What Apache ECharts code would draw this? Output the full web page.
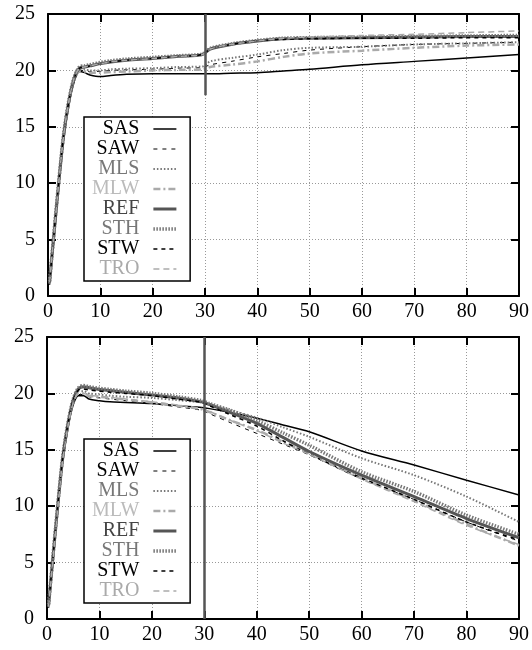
<!DOCTYPE html>
<html>
<head>
<meta charset="utf-8">
<script src="https://cdn.jsdelivr.net/npm/echarts@6/dist/echarts.min.js"></script>
<style>
  html, body { margin: 0; padding: 0; background: #fff; }
  #chart { width: 532px; height: 650px; }
</style>
</head>
<body>
<div id="chart"></div>
<script>
// time samples shared by every curve
var xs = [0.3, 1, 2, 3, 4, 5, 6, 7, 8, 10, 12, 15, 20, 25, 29.5, 31, 35, 40, 45, 50, 60, 70, 80, 90];

// upper panel
var topSAS = [1.0, 4.5, 9.5, 14, 17, 19, 19.9, 19.8, 19.6, 19.45, 19.55, 19.65, 19.7, 19.7, 19.7, 19.7, 19.75, 19.8, 19.95, 20.1, 20.5, 20.8, 21.1, 21.4];
var topSAW = [1.1, 4.6, 9.6, 14.1, 17.1, 19.1, 20.0, 20.0, 19.9, 19.9, 20.0, 20.05, 20.1, 20.2, 20.25, 20.5, 20.8, 21.2, 21.5, 21.8, 22.1, 22.3, 22.4, 22.5];
var topMLS = [1.2, 4.7, 9.7, 14.2, 17.2, 19.2, 20.1, 20.1, 20.0, 20.0, 20.1, 20.15, 20.2, 20.3, 20.35, 20.8, 21.1, 21.4, 21.8, 22.0, 22.1, 22.3, 22.4, 22.5];
var topMLW = [1.1, 4.6, 9.6, 14.1, 17.1, 19.1, 19.9, 19.9, 19.8, 19.8, 19.85, 19.9, 20.0, 20.05, 20.1, 20.3, 20.5, 20.8, 21.2, 21.5, 21.75, 22.0, 22.2, 22.3];
var topREF = [1.2, 4.8, 9.8, 14.3, 17.3, 19.3, 20.2, 20.3, 20.4, 20.6, 20.75, 20.9, 21.05, 21.25, 21.4, 21.9, 22.3, 22.6, 22.8, 22.85, 22.9, 22.95, 23.0, 23.0];
var topSTH = [1.3, 4.9, 9.9, 14.4, 17.4, 19.4, 20.3, 20.4, 20.5, 20.7, 20.85, 21.0, 21.15, 21.3, 21.45, 21.95, 22.35, 22.65, 22.85, 22.9, 22.95, 23.0, 23.05, 23.1];
var topSTW = [1.2, 4.8, 9.8, 14.3, 17.3, 19.3, 20.2, 20.3, 20.4, 20.6, 20.75, 20.9, 21.05, 21.25, 21.4, 21.9, 22.3, 22.6, 22.75, 22.8, 22.85, 22.85, 22.9, 22.9];
var topTRO = [1.2, 4.8, 9.8, 14.3, 17.3, 19.3, 20.2, 20.3, 20.4, 20.6, 20.75, 20.9, 21.05, 21.25, 21.4, 21.9, 22.3, 22.6, 22.85, 22.95, 23.1, 23.2, 23.35, 23.5];

// lower panel
var botSAS = [1.0, 4.5, 9.5, 14, 17, 19, 19.8, 19.8, 19.5, 19.35, 19.25, 19.2, 19.1, 18.9, 18.75, 18.65, 18.3, 17.8, 17.2, 16.6, 14.9, 13.65, 12.3, 11.0];
var botSAW = [1.1, 4.6, 9.6, 14.1, 17.1, 19.1, 19.9, 19.9, 19.7, 19.6, 19.5, 19.35, 19.1, 18.8, 18.5, 18.2, 17.4, 16.45, 15.5, 14.55, 12.4, 10.6, 8.6, 6.9];
var botMLS = [1.2, 4.7, 9.7, 14.2, 17.2, 19.3, 20.2, 20.2, 20.0, 19.9, 19.8, 19.7, 19.6, 19.4, 19.2, 19.05, 18.5, 17.85, 17.0, 16.15, 14.25, 12.75, 10.85, 8.6];
var botMLW = [1.1, 4.6, 9.6, 14.1, 17.1, 19.2, 20.0, 20.0, 19.8, 19.7, 19.6, 19.45, 19.2, 18.9, 18.6, 18.35, 17.6, 16.75, 15.7, 14.7, 12.5, 10.5, 8.4, 6.5];
var botREF = [1.2, 4.8, 9.8, 14.3, 17.3, 19.4, 20.4, 20.6, 20.5, 20.35, 20.25, 20.1, 19.85, 19.6, 19.25, 19.0, 18.3, 17.35, 16.1, 14.85, 12.75, 10.85, 8.9, 7.2];
var botSTH = [1.3, 4.9, 9.9, 14.4, 17.4, 19.5, 20.5, 20.7, 20.6, 20.45, 20.35, 20.2, 20.0, 19.7, 19.35, 19.1, 18.5, 17.6, 16.5, 15.4, 13.05, 11.3, 9.2, 7.5];
var botSTW = [1.2, 4.8, 9.8, 14.3, 17.3, 19.4, 20.3, 20.4, 20.3, 20.2, 20.1, 20.0, 19.8, 19.5, 19.2, 18.9, 18.1, 17.1, 15.8, 14.6, 12.5, 10.6, 8.6, 7.0];
var botTRO = [1.1, 4.6, 9.6, 14.1, 17.1, 19.2, 20.0, 20.0, 19.85, 19.75, 19.65, 19.5, 19.25, 18.95, 18.65, 18.4, 17.6, 16.7, 15.6, 14.6, 12.4, 10.4, 8.3, 6.6];

var names = ['SAS', 'SAW', 'MLS', 'MLW', 'REF', 'STH', 'STW', 'TRO'];
var topData = [topSAS, topSAW, topMLS, topMLW, topREF, topSTH, topSTW, topTRO];
var botData = [botSAS, botSAW, botMLS, botMLW, botREF, botSTH, botSTW, botTRO];

// vertical marker at t = 30
var markX = 30;
var topMarkSpan = [17.8, 25];
var botMarkSpan = [0, 25];

var font = "'Liberation Serif', 'Times New Roman', serif";

// line look per series
var styles = {
    SAS: { color: '#000', width: 1.5, type: 'solid', text: '#000' },
    SAW: { color: '#000', width: 1, type: [4, 5], text: '#000' },
    MLS: { color: '#777', width: 2, type: [1.5, 2], text: '#777' },
    MLW: { color: '#aaa', width: 2.5, type: [7, 3, 2, 3], text: '#bbb' },
    REF: { color: '#555', width: 3, type: 'solid', text: '#444' },
    STH: { color: '#777', width: 3.5, type: [1.5, 1.5], text: '#777' },
    STW: { color: '#000', width: 1.5, type: [4, 4], text: '#000' },
    TRO: { color: '#aaa', width: 1.5, type: [6, 4], text: '#aaa' }
};

var myChart = echarts.init(document.getElementById('chart'));

function pairs(ys) {
    return xs.map(function (x, i) { return [x, ys[i]]; });
}

function xAx(gi, mirror) {
    return {
        type: 'value', gridIndex: gi, min: 0, max: 90, interval: 10,
        position: mirror ? 'top' : 'bottom',
        axisLine: { show: true, onZero: false, lineStyle: { color: '#000', width: 2 } },
        axisTick: { show: true, inside: true, length: 8, lineStyle: { color: '#000', width: 2 } },
        axisLabel: { show: !mirror, fontFamily: font, fontSize: 20, color: '#000', margin: 6 },
        splitLine: { show: !mirror, lineStyle: { color: '#999', type: [1, 2], width: 1 } }
    };
}

function yAx(gi, mirror) {
    return {
        type: 'value', gridIndex: gi, min: 0, max: 25, interval: 5,
        position: mirror ? 'right' : 'left',
        axisLine: { show: true, onZero: false, lineStyle: { color: '#000', width: 2 } },
        axisTick: { show: true, inside: true, length: 8, lineStyle: { color: '#000', width: 2 } },
        axisLabel: { show: !mirror, fontFamily: font, fontSize: 20, color: '#000', margin: 13 },
        splitLine: { show: !mirror, lineStyle: { color: '#999', type: [1, 2], width: 1 } }
    };
}

function legendFor(top) {
    return {
        orient: 'vertical',
        left: 84,
        top: top,
        align: 'right',
        itemWidth: 23,
        itemHeight: 12,
        itemGap: 0,
        padding: [2, 12, 2, 8],
        borderColor: '#000',
        borderWidth: 1.5,
        backgroundColor: '#fff',
        itemStyle: { opacity: 0 },
        textStyle: { fontFamily: font, fontSize: 20, width: 54, align: 'right', padding: [0, 9, 0, 0] },
        data: names.map(function (n) {
            var s = styles[n];
            return {
                name: n,
                textStyle: { color: s.text },
                lineStyle: { color: s.color, width: s.width, type: s.type }
            };
        })
    };
}

var series = [];
[topData, botData].forEach(function (set, gi) {
    names.forEach(function (n, i) {
        var s = styles[n];
        var item = {
            name: n,
            type: 'line',
            xAxisIndex: gi * 2,
            yAxisIndex: gi * 2,
            symbol: 'none',
            smooth: 0.3,
            silent: true,
            lineStyle: { color: s.color, width: s.width, type: s.type },
            itemStyle: { color: s.color },
            data: pairs(set[i])
        };
        if (n === 'REF') {
            var span = gi === 0 ? topMarkSpan : botMarkSpan;
            item.markLine = {
                symbol: 'none', silent: true, label: { show: false },
                lineStyle: { color: '#555', width: 2.5, type: 'solid' },
                data: [[{ coord: [markX, span[0]] }, { coord: [markX, span[1]] }]]
            };
        }
        series.push(item);
    });
});

var option = {
    animation: false,
    backgroundColor: '#fff',
    grid: [
        { left: 48, top: 14, width: 472, height: 282 },
        { left: 47, top: 337, width: 473, height: 282 }
    ],
    xAxis: [xAx(0, false), xAx(0, true), xAx(1, false), xAx(1, true)],
    yAxis: [yAx(0, false), yAx(0, true), yAx(1, false), yAx(1, true)],
    legend: [legendFor(117), legendFor(439)],
    series: series
};

myChart.setOption(option);
</script>
</body>
</html>
